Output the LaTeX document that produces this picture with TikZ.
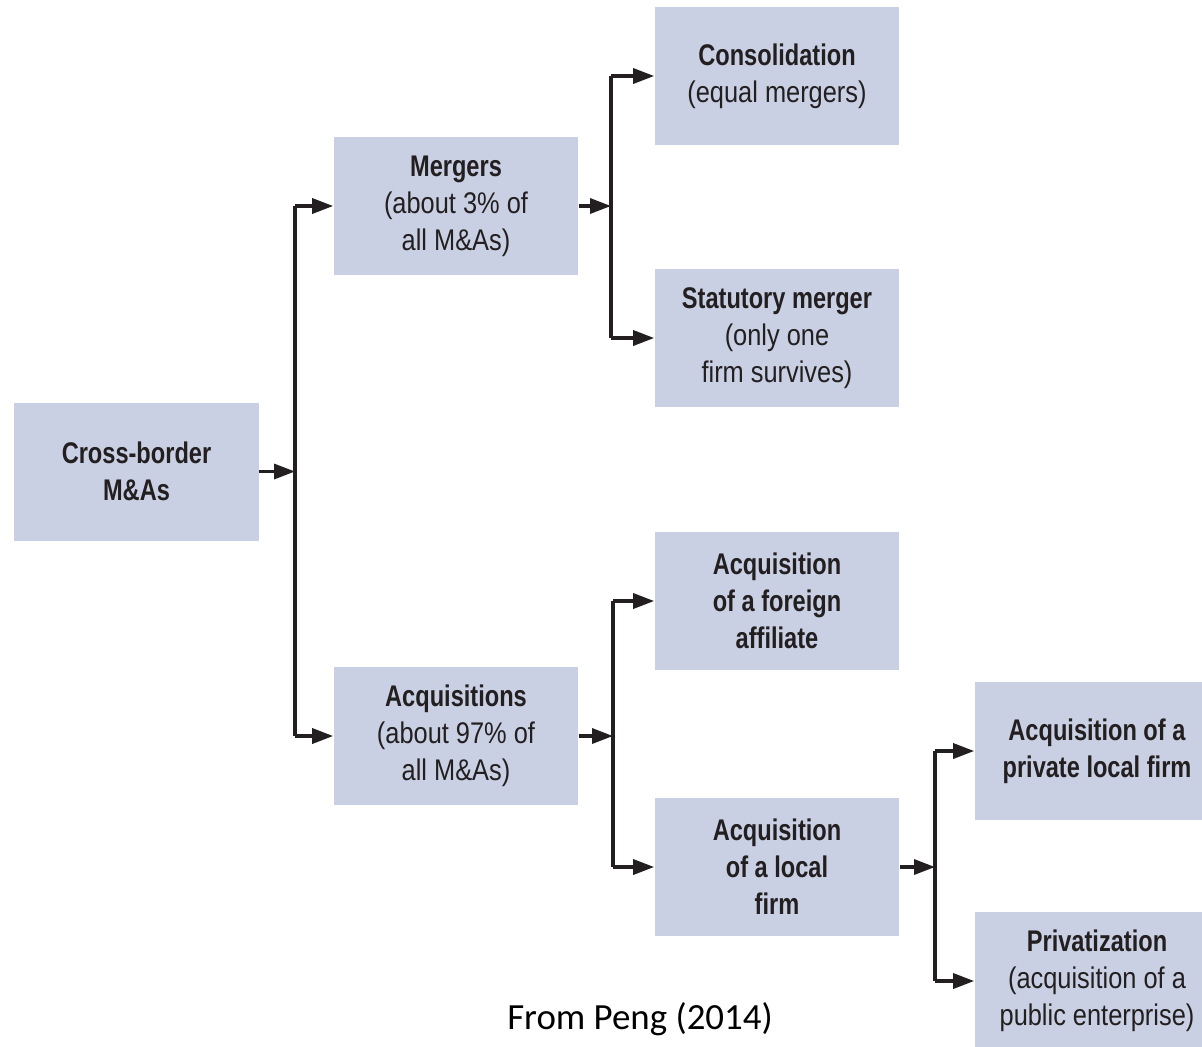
\documentclass[tikz,border=0pt]{standalone}
\usepackage{fontspec}
\setmainfont{Liberation Sans}[FakeStretch=0.85, BoldFeatures={FakeStretch=0.79}]
\newfontfamily\capfont{Carlito}
\usetikzlibrary{arrows.meta}
\definecolor{boxfill}{HTML}{C9D0E3}
\definecolor{txt}{HTML}{231F20}
\tikzset{
  box/.style={fill=boxfill, minimum width=4.9cm, minimum height=2.76cm, inner sep=0pt,
    align=center, text=txt, font=\fontsize{17}{21}\selectfont},
  conn/.style={draw=txt, line width=1.9pt, -{Triangle[length=0.42cm,width=0.3cm]}},
  busline/.style={draw=txt, line width=1.9pt}
}
\begin{document}
\begin{tikzpicture}[x=0.02cm,y=-0.02cm]
\useasboundingbox (0,0) rectangle (1202,1046);
\begin{scope}
\clip (0,0) rectangle (1202,1046);
\node[box] (cb) at (136.5,471.5) {\textbf{Cross-border}\\\textbf{M\&As}};
\node[box] (mer) at (456,206) {\textbf{Mergers}\\(about 3\% of\\all M\&As)};
\node[box] (acq) at (456,736) {\textbf{Acquisitions}\\(about 97\% of\\all M\&As)};
\node[box] (con) at (777,76) {\textbf{Consolidation}\\(equal mergers)};
\node[box] (sta) at (777,338) {\textbf{Statutory merger}\\(only one\\firm survives)};
\node[box] (afa) at (777,601) {\textbf{Acquisition}\\\textbf{of a foreign}\\\textbf{affiliate}};
\node[box] (alf) at (777,867) {\textbf{Acquisition}\\\textbf{of a local}\\\textbf{firm}};
\node[box] (apl) at (1097,751) {\textbf{Acquisition of a}\\\textbf{private local firm}};
\node[box] (pri) at (1097,981) {\textbf{Privatization}\\(acquisition of a\\public enterprise)};
\end{scope}
\node[text=black, font=\capfont\fontsize{21}{25}\selectfont] (cap) at (640,1019) {From Peng (2014)};

% bus coordinates
\coordinate (b1) at (295,471.5);
\coordinate (b1t) at (295,206);
\coordinate (b1b) at (295,736);
\coordinate (b2) at (611,206);
\coordinate (b2t) at (611,76);
\coordinate (b2b) at (611,338);
\coordinate (b3) at (613,736);
\coordinate (b3t) at (613,601);
\coordinate (b3b) at (613,867);
\coordinate (b4) at (935,867);
\coordinate (b4t) at (935,751);
\coordinate (b4b) at (935,981);

\draw[conn] (cb.east) -- (b1);
\draw[busline] (b1t) -- (b1b);
\draw[conn] (b1t) -- (mer.west);
\draw[conn] (b1b) -- (acq.west);

\draw[conn] (mer.east) -- (b2);
\draw[busline] (b2t) -- (b2b);
\draw[conn] (b2t) -- (con.west);
\draw[conn] (b2b) -- (sta.west);

\draw[conn] (acq.east) -- (b3);
\draw[busline] (b3t) -- (b3b);
\draw[conn] (b3t) -- (afa.west);
\draw[conn] (b3b) -- (alf.west);

\draw[conn] (alf.east) -- (b4);
\draw[busline] (b4t) -- (b4b);
\draw[conn] (b4t) -- (apl.west);
\draw[conn] (b4b) -- (pri.west);
\end{tikzpicture}
\end{document}
